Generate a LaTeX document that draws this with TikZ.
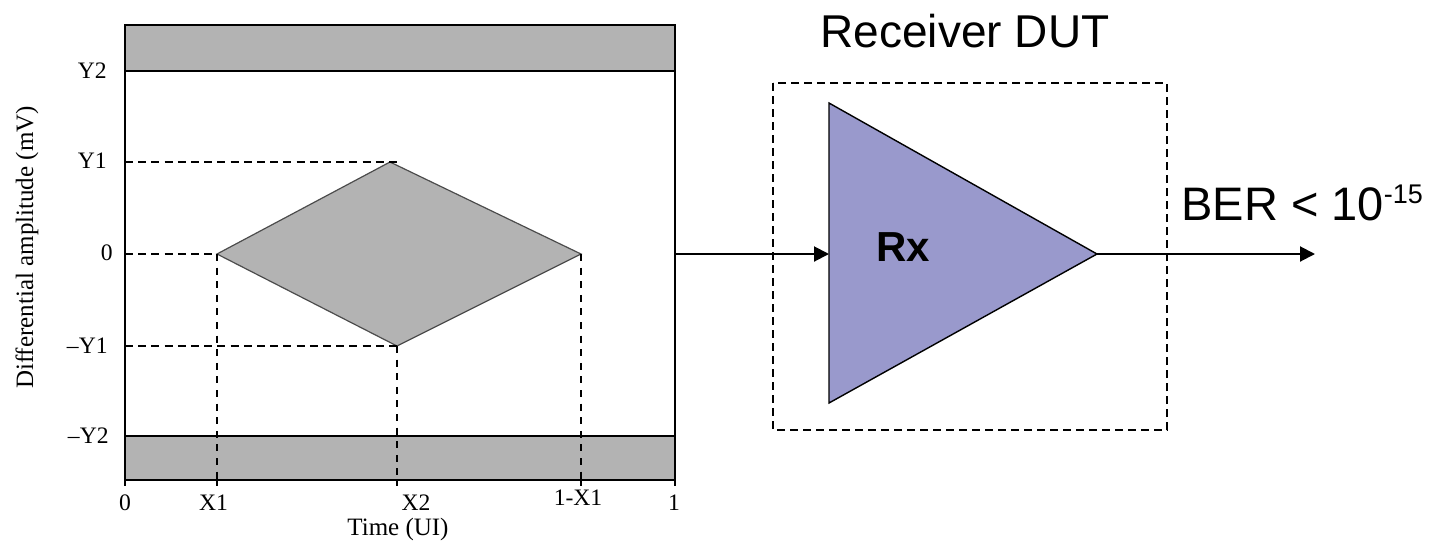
\documentclass[tikz,border=0pt]{standalone}
\usepackage{fontspec}
\setmainfont{Liberation Serif}
\setsansfont{Liberation Sans}
\usetikzlibrary{arrows.meta}
\definecolor{eyegray}{RGB}{179,179,179}
\definecolor{rxfill}{RGB}{153,153,204}
\begin{document}
\begin{tikzpicture}[x=0.5pt,y=-0.5pt,
  band/.style={fill=eyegray,draw=black,line width=0.7pt},
  thickdash/.style={line width=1.4pt,dash pattern=on 4pt off 2.6pt},
  thindash/.style={line width=0.6pt,dash pattern=on 3.5pt off 3.3pt},
  boxdash/.style={line width=0.7pt,dash pattern=on 4pt off 2.5pt},
  ticklbl/.style={font=\fontsize{11.8}{13}\selectfont,inner sep=0pt},
  axtitle/.style={font=\fontsize{12.5}{14}\selectfont,inner sep=0pt},
  bigtxt/.style={font=\sffamily\fontsize{23}{27}\selectfont,inner sep=0pt},
  sig/.style={line width=1pt,-{Triangle[length=7.5pt,width=7.5pt]}}]
\useasboundingbox (0,0) rectangle (1442,542);
% bands and frame
\draw[band] (125,25) rectangle (675,71);
\draw[band] (125,436) rectangle (675,480);
\draw[line width=0.7pt] (125,25) rectangle (675,480);
% eye diamond
\coordinate (dl) at (217,254);
\coordinate (dt) at (390,162);
\coordinate (dr) at (581,254);
\coordinate (db) at (397,346);
\filldraw[fill=eyegray,draw=black!70,line width=0.6pt] (dl)--(dt)--(dr)--(db)--cycle;
% dashed guides
\coordinate (y1a) at (125,162); \coordinate (y1b) at (400,162);
\coordinate (z0a) at (125,254);
\coordinate (m1a) at (125,346);
\draw[thickdash] (y1a)--(y1b);
\draw[thickdash] (z0a)--(dl);
\draw[thickdash] (m1a)--(db);
\coordinate (x1b) at (217,484); \coordinate (x2b) at (397,486); \coordinate (x3b) at (581,484);
\draw[thindash] (dl)--(x1b);
\draw[thindash] (db)--(x2b);
\draw[thindash] (dr)--(x3b);
% ticks
\foreach \t in {125,217,397,581,675} \draw[line width=0.7pt] (\t,480)--(\t,486);
% y labels
\node[ticklbl,anchor=east] (ly2) at (107,70.5) {Y2};
\node[ticklbl,anchor=east] (ly1) at (107,161) {Y1};
\node[ticklbl,anchor=east] (l0) at (113,253) {0};
\node[ticklbl,anchor=east] (lm1) at (108,346) {–Y1};
\node[ticklbl,anchor=east] (lm2) at (109,436) {–Y2};
% x labels
\node[ticklbl,anchor=base] (lx0) at (125,510) {0};
\node[ticklbl,anchor=base] (lx1) at (213.5,510) {X1};
\node[ticklbl,anchor=base] (lx2) at (416,510) {X2};
\node[ticklbl,anchor=base] (lx3) at (578,505) {1-X1};
\node[ticklbl,anchor=base] (lx4) at (674,510) {1};
\node[axtitle,anchor=base] (tt) at (398,535) {Time (UI)};
\node[axtitle,rotate=90] (yt) at (27,247.5) {Differential amplitude (mV)};
% receiver
\node[bigtxt] (rdut) at (965,31) {Receiver DUT};
\draw[boxdash] (773,83) rectangle (1167,430);
\coordinate (ta) at (829,103);
\coordinate (tip) at (1097,254);
\coordinate (tb) at (829,403);
\coordinate (tin) at (829,254);
\filldraw[fill=rxfill,draw=black,line width=0.7pt] (ta)--(tip)--(tb)--cycle;
\node[bigtxt,font=\sffamily\bfseries\fontsize{21}{25}\selectfont] (rx) at (903.5,247.5) {Rx};
\coordinate (cout) at (675,254);
\coordinate (oend) at (1315,254);
\draw[sig] (cout)--(tin);
\draw[sig] (tip)--(oend);
\node[bigtxt,font=\sffamily\fontsize{23.5}{27}\selectfont,anchor=base west] (ber) at (1181,220) {BER < 10\raisebox{8.5pt}{\fontsize{13.5}{15}\selectfont -15}};
\end{tikzpicture}
\end{document}
